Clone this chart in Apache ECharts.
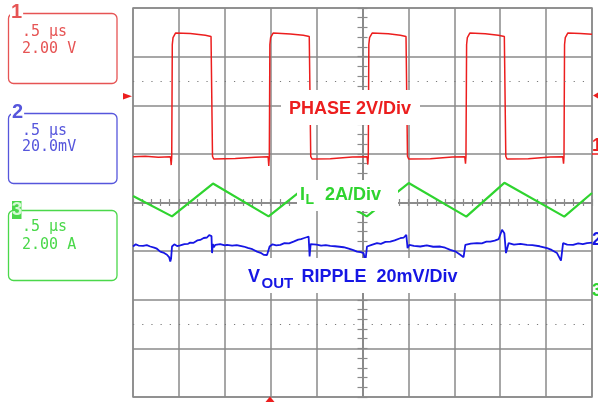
<!DOCTYPE html>
<html><head><meta charset="utf-8">
<script src="https://cdn.jsdelivr.net/npm/echarts@6/dist/echarts.min.js"></script>
<style>html,body{margin:0;padding:0;background:#fff;}#c{width:598px;height:402px;}</style>
</head><body><div id="c"></div>
<script>
// ---- data (time in µs, values in channel units) ----
const phaseVolts = [
  [0.000,-0.12],[0.134,-0.10],[0.276,-0.14],[0.408,-0.12],[0.416,-0.46],[0.422,-0.12],[0.428,4.50],[0.436,4.78],[0.463,4.97],[0.624,4.95],[0.788,4.88],[0.850,4.83],[0.861,4.80],[0.866,-0.10],[0.879,-0.21],[1.114,-0.19],[1.332,-0.14],
  [1.472,-0.12],[1.479,-0.50],[1.485,-0.12],[1.491,4.50],[1.499,4.78],[1.526,4.97],[1.714,4.93],[1.855,4.88],[1.920,4.83],[1.931,4.80],[1.936,-0.10],[1.950,-0.21],[2.149,-0.20],[2.389,-0.13],
  [2.550,-0.12],[2.558,-0.44],[2.563,-0.12],[2.569,4.50],[2.577,4.78],[2.605,4.97],[2.781,4.94],[2.912,4.88],[2.974,4.83],[2.985,4.80],[2.990,-0.10],[3.003,-0.21],[3.239,-0.20],[3.478,-0.13],
  [3.614,-0.12],[3.622,-0.40],[3.627,-0.12],[3.634,4.50],[3.642,4.78],[3.669,4.97],[3.838,4.94],[3.979,4.88],[4.045,4.83],[4.056,4.80],[4.061,-0.10],[4.074,-0.21],[4.306,-0.20],[4.546,-0.13],
  [4.682,-0.12],[4.690,-0.40],[4.695,-0.12],[4.701,4.50],[4.709,4.78],[4.736,4.97],[4.873,4.95],[5.000,4.92]
];
const inductorAmps = [
  [0.000,3.87],[0.425,3.03],[0.871,4.38],[1.477,3.03],[1.931,4.39],[2.547,3.03],
  [3.003,4.40],[3.631,3.02],[4.045,4.41],[4.698,3.02],[5.000,3.99]
];
const rippleMillivolts = [
  [0.000,-0.1],[0.030,0.8],[0.060,0.3],[0.080,0.9],[0.110,0.2],[0.150,0.5],[0.188,-0.1],[0.230,-0.6],[0.260,-1.0],[0.297,-2.2],[0.330,-2.6],[0.370,-3.5],[0.395,-4.6],[0.406,-6.3],[0.415,-5.0],[0.425,-0.1],
  [0.450,0.8],[0.480,0.1],[0.515,0.4],[0.560,0.9],[0.600,1.0],[0.623,1.5],[0.660,1.4],[0.700,2.4],[0.732,2.6],[0.770,3.4],[0.806,3.6],[0.830,4.6],[0.842,5.1],[0.855,4.2],[0.861,-2.8],[0.870,0.9],[0.880,-0.4],
  [0.897,0.6],[0.950,0.9],[1.000,0.4],[1.024,0.6],[1.080,0.3],[1.130,0.5],[1.205,-0.1],[1.250,-0.7],[1.300,-1.2],[1.351,-2.2],[1.390,-2.7],[1.423,-3.5],[1.460,-3.6],[1.477,-4.2],[1.488,-0.1],
  [1.520,0.8],[1.560,0.4],[1.605,0.6],[1.650,1.3],[1.700,1.2],[1.749,1.9],[1.800,2.7],[1.830,2.9],[1.858,3.3],[1.890,3.7],[1.913,4.0],[1.920,3.6],[1.924,-4.2],[1.935,0.9],[1.950,0.2],
  [2.000,0.7],[2.050,0.3],[2.100,0.5],[2.149,0.2],[2.200,0.0],[2.250,-0.2],[2.294,-0.4],[2.350,-1.0],[2.400,-1.6],[2.440,-2.2],[2.480,-2.4],[2.512,-2.8],[2.531,-6.3],[2.549,-0.1],
  [2.600,0.6],[2.658,1.3],[2.700,1.0],[2.750,1.8],[2.803,1.9],[2.850,2.4],[2.911,3.3],[2.950,3.6],[2.977,4.7],[2.991,-0.8],[3.010,0.6],[3.060,0.2],[3.129,-0.1],[3.200,0.4],[3.270,-0.2],[3.347,-0.1],
  [3.400,-0.6],[3.456,-1.5],[3.510,-2.1],[3.565,-3.5],[3.601,-4.5],[3.620,0.6],[3.680,1.1],[3.747,1.3],[3.800,1.2],[3.850,1.9],[3.892,1.9],[3.940,2.3],[3.983,2.9],[4.020,6.8],[4.045,5.4],[4.063,-2.8],
  [4.092,1.3],[4.150,0.7],[4.220,1.0],[4.292,0.6],[4.350,0.5],[4.430,0.0],[4.510,-0.8],[4.560,-1.5],[4.619,-2.8],[4.662,-5.9],[4.685,1.3],[4.730,0.7],[4.794,0.6],[4.850,1.2],[4.900,0.9],[4.946,1.3],[5.000,1.5]
];
const timeRangeUs = [0, 5];
const timePerDivUs = 0.5;
const phaseAxisVolts = [-10, 6];      // 2 V/div
const rippleAxisMv = [-62, 98];       // 20 mV/div
const currentAxisAmps = [-4.4, 11.6]; // 2 A/div
const graticuleDivs = [-4, 4];
const dottedLevelsDiv = [2.5, -2.5];
const timebaseLabel = '.5 µs';
const scaleLabels = ['2.00 V', '20.0mV', '2.00 A'];
const channelNumbers = ['1', '2', '3'];
const traceTitles = ['PHASE 2V/Div', '2A/Div', 'RIPPLE  20mV/Div'];

// ---- styles / layout ----
const RED = '#ec1e1e', BLUE = '#1616e4', GREEN = '#2fd42f';
const BOX_RED = '#e65454', BOX_BLUE = '#5656dc', BOX_GREEN = '#4ad84a';
const GRIDC = '#8a8a8a';
const G = {left: 133, top: 8, width: 459, height: 389};
const SANS = '"Liberation Sans", Arial, sans-serif';
const MONO = '"DejaVu Sans Mono", monospace';

const chart = echarts.init(document.getElementById('c'), null, {renderer: 'canvas'});

const hidden = {show: false};
function centreXAxis(inside) {
  return {type: 'value', min: timeRangeUs[0], max: timeRangeUs[1], interval: timePerDivUs / 5,
    position: 'bottom', offset: -G.height / 2,
    axisLine: {show: true, onZero: false, lineStyle: {color: GRIDC, width: 1.5}},
    axisTick: {show: true, inside: inside, length: 3.5, lineStyle: {color: GRIDC, width: 1.2}},
    axisLabel: hidden, splitLine: hidden};
}
function centreYAxis(inside) {
  return {type: 'value', min: graticuleDivs[0], max: graticuleDivs[1], interval: 0.2,
    position: 'left', offset: -G.width / 2,
    axisLine: {show: true, onZero: false, lineStyle: {color: GRIDC, width: 1.5}},
    axisTick: {show: true, inside: inside, length: 5, lineStyle: {color: GRIDC, width: 1.2}},
    axisLabel: hidden, splitLine: hidden};
}

const boxTops = [13.5, 113.5, 210.5];
const numY = [12.5, 112, 210];
const line1Y = [32.5, 131, 227.5];
const line2Y = [49.2, 147, 245];
const boxColors = [BOX_RED, BOX_BLUE, BOX_GREEN];

const graphics = [];
for (let i = 0; i < 3; i++) {
  graphics.push({type: 'rect', z: 100, shape: {x: 8.5, y: boxTops[i], width: 108.5, height: 70, r: 5},
    style: {fill: 'none', stroke: boxColors[i], lineWidth: 1.3}});
  graphics.push({type: 'text', z: 101, style: {text: timebaseLabel, x: 22, y: line1Y[i], font: '15px ' + MONO, fill: boxColors[i], verticalAlign: 'middle'}});
  graphics.push({type: 'text', z: 101, style: {text: scaleLabels[i], x: 22, y: line2Y[i], font: '15px ' + MONO, fill: boxColors[i], verticalAlign: 'middle'}});
}
graphics.push({type: 'text', z: 102, style: {text: channelNumbers[0], x: 10, y: numY[0], font: 'bold 20px ' + SANS, fill: BOX_RED, verticalAlign: 'middle', backgroundColor: '#fff', padding: [0, 1]}});
graphics.push({type: 'text', z: 102, style: {text: channelNumbers[1], x: 11, y: numY[1], font: 'bold 20px ' + SANS, fill: BOX_BLUE, verticalAlign: 'middle', backgroundColor: '#fff', padding: [0, 1]}});
graphics.push({type: 'rect', z: 102, shape: {x: 12, y: 201, width: 9.5, height: 18}, style: {fill: BOX_GREEN}});
graphics.push({type: 'text', z: 103, style: {text: channelNumbers[2], x: 11.8, y: numY[2], font: 'bold 19px ' + SANS, fill: '#d4fad4', verticalAlign: 'middle'}});

// annotation boxes
graphics.push({type: 'rect', z: 100, shape: {x: 281, y: 90, width: 139, height: 35}, style: {fill: '#fff'}});
graphics.push({type: 'text', z: 101, style: {text: traceTitles[0], x: 289, y: 109, font: 'bold 18px ' + SANS, fill: RED, verticalAlign: 'middle'}});
graphics.push({type: 'rect', z: 100, shape: {x: 297, y: 180, width: 101, height: 31}, style: {fill: '#fff'}});
graphics.push({type: 'text', z: 101, style: {text: 'I', x: 300, y: 195, font: 'bold 18px ' + SANS, fill: GREEN, verticalAlign: 'middle'}});
graphics.push({type: 'text', z: 101, style: {text: 'L', x: 305.5, y: 200.5, font: 'bold 14px ' + SANS, fill: GREEN, verticalAlign: 'middle'}});
graphics.push({type: 'text', z: 101, style: {text: traceTitles[1], x: 325, y: 195, font: 'bold 18px ' + SANS, fill: GREEN, verticalAlign: 'middle'}});
graphics.push({type: 'rect', z: 100, shape: {x: 245, y: 258, width: 225, height: 35}, style: {fill: '#fff'}});
graphics.push({type: 'text', z: 101, style: {text: 'V', x: 248, y: 277, font: 'bold 18px ' + SANS, fill: BLUE, verticalAlign: 'middle'}});
graphics.push({type: 'text', z: 101, style: {text: 'OUT', x: 261.5, y: 284, font: 'bold 15px ' + SANS, fill: BLUE, verticalAlign: 'middle'}});
graphics.push({type: 'text', z: 101, style: {text: traceTitles[2], x: 301.5, y: 277, font: 'bold 18px ' + SANS, fill: BLUE, verticalAlign: 'middle'}});

// edge markers
graphics.push({type: 'polygon', z: 100, shape: {points: [[123, 93], [132, 96.2], [123, 99.4]]}, style: {fill: RED}});
graphics.push({type: 'polygon', z: 100, shape: {points: [[598, 92.5], [593, 95.5], [598, 98.5]]}, style: {fill: RED}});
graphics.push({type: 'polygon', z: 100, shape: {points: [[265.5, 402], [270, 396.5], [274.5, 402]]}, style: {fill: RED}});
graphics.push({type: 'text', z: 100, style: {text: channelNumbers[0], x: 592, y: 146, font: 'bold 18px ' + SANS, fill: RED, verticalAlign: 'middle'}});
graphics.push({type: 'line', z: 100, shape: {x1: 592, y1: 154, x2: 598, y2: 154}, style: {stroke: RED, lineWidth: 1.5}});
graphics.push({type: 'text', z: 100, style: {text: channelNumbers[1], x: 592, y: 240, font: 'bold 18px ' + SANS, fill: BLUE, verticalAlign: 'middle'}});
graphics.push({type: 'text', z: 100, style: {text: channelNumbers[2], x: 592, y: 291, font: 'bold 18px ' + SANS, fill: GREEN, verticalAlign: 'middle'}});

const option = {
  animation: false,
  backgroundColor: '#fff',
  grid: {left: G.left, top: G.top, width: G.width, height: G.height, show: true,
    borderColor: GRIDC, borderWidth: 1.5, backgroundColor: 'transparent', containLabel: false, outerBoundsMode: 'none'},
  xAxis: [
    {type: 'value', min: timeRangeUs[0], max: timeRangeUs[1], interval: timePerDivUs,
      axisLine: {show: false, onZero: false}, axisTick: hidden, axisLabel: hidden,
      splitLine: {show: true, lineStyle: {color: GRIDC, width: 1.5}}},
    centreXAxis(true),
    centreXAxis(false)
  ],
  yAxis: [
    {type: 'value', min: phaseAxisVolts[0], max: phaseAxisVolts[1], interval: 2,
      axisLine: {show: false, onZero: false}, axisTick: hidden, axisLabel: hidden,
      splitLine: {show: true, lineStyle: {color: GRIDC, width: 1.5}}},
    {type: 'value', min: rippleAxisMv[0], max: rippleAxisMv[1], show: false, axisLine: {onZero: false}, splitLine: hidden},
    {type: 'value', min: currentAxisAmps[0], max: currentAxisAmps[1], show: false, axisLine: {onZero: false}, splitLine: hidden},
    centreYAxis(true),
    centreYAxis(false)
  ],
  series: [
    {type: 'line', xAxisIndex: 0, yAxisIndex: 3, data: [], silent: true,
      markLine: {silent: true, symbol: ['none', 'none'], label: {show: false}, animation: false,
        lineStyle: {color: '#7a7a7a', width: 1.2, type: [1.2, 7.98], dashOffset: 0},
        data: dottedLevelsDiv.map(v => ({yAxis: v}))}},
    {name: 'PHASE', type: 'line', xAxisIndex: 0, yAxisIndex: 0, data: phaseVolts, showSymbol: false, z: 3,
      lineStyle: {color: RED, width: 1.5}, itemStyle: {color: RED}},
    {name: 'IL', type: 'line', xAxisIndex: 0, yAxisIndex: 2, data: inductorAmps, showSymbol: false, z: 3,
      lineStyle: {color: GREEN, width: 2.2}, itemStyle: {color: GREEN}},
    {name: 'VOUT', type: 'line', xAxisIndex: 0, yAxisIndex: 1, data: rippleMillivolts, showSymbol: false, z: 3,
      lineStyle: {color: BLUE, width: 1.8}, itemStyle: {color: BLUE}}
  ],
  graphic: graphics
};
chart.setOption(option);
</script>
</body></html>
